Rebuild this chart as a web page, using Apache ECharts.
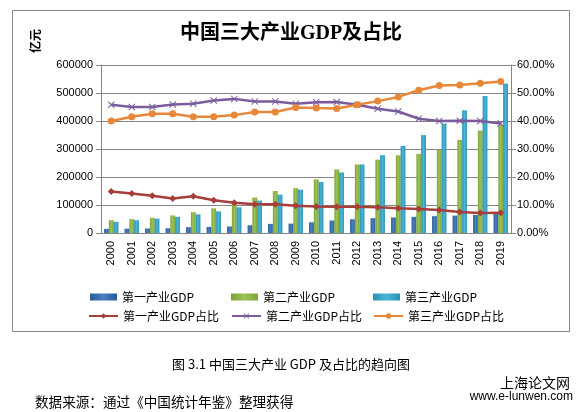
<!DOCTYPE html>
<html><head><meta charset="utf-8">
<script src="https://cdn.jsdelivr.net/npm/echarts@6/dist/echarts.min.js"></script>
<style>html,body{margin:0;padding:0;background:#fff}#c{width:582px;height:412px}</style>
</head><body><div id="c"></div>
<script>
const years = ['2000','2001','2002','2003','2004','2005','2006','2007','2008','2009','2010','2011','2012','2013','2014','2015','2016','2017','2018','2019'];
const gdp1 = [14717,15503,16190,16970,20904,21807,23317,27674,32464,33584,38430,44781,49085,53028,55626,57775,60139,62100,64745,70467];
const gdp2 = [45665,49660,54105,62697,74287,88082,104359,126630,149952,160168,191626,227035,244643,261956,277572,282040,296547,332743,366001,386165];
const gdp3 = [39898,45701,51423,57756,66650,77430,91762,115810,136805,154748,182062,216124,244822,277984,310654,349745,390828,438356,489701,534233];
const share1 = [14.8,14.1,13.3,12.3,13.1,11.7,10.8,10.3,10.3,9.7,9.5,9.4,9.4,9.2,8.8,8.6,8.2,7.5,7.1,7.2];
const share2 = [45.8,45.0,45.0,45.9,46.2,47.3,47.9,47.0,47.0,46.2,46.7,46.8,45.8,44.4,43.4,40.8,40.0,40.1,40.0,39.1];
const share3 = [40.0,41.5,42.6,42.6,41.5,41.5,42.1,43.2,43.2,44.8,44.6,44.5,45.8,47.1,48.6,51.0,52.7,52.9,53.5,54.1];
const names = ['第一产业GDP','第二产业GDP','第三产业GDP','第一产业GDP占比','第二产业GDP占比','第三产业GDP占比'];
const yLeftTicks = {min:0,max:600000,interval:100000};
const yRightTicks = {min:0,max:60,interval:10};

const grad = (a,b)=>new echarts.graphic.LinearGradient(0,0,1,0,[{offset:0,color:a},{offset:0.5,color:b},{offset:1,color:a}]);
const cBar = [grad('#2A5A96','#4A7FC4'), grad('#7DA23A','#9DC453'), grad('#2890B2','#4BB6D6')];
const cLine = ['#A83E3A','#7A5C9E','#E8883A'];
const xPath = 'path://M1,0 L5,4 L9,0 L10,1 L6,5 L10,9 L9,10 L5,6 L1,10 L0,9 L4,5 L0,1 Z';
const font = '"Noto Sans CJK SC", "Liberation Sans", sans-serif';
const gray = '#868686';

const legendPos = [[85,286],[226,286],[368,286],[83,305],[226,305],[368,305]];
const legends = names.map((n,i)=>{
  const l = {data:[n], left:legendPos[i][0], top:legendPos[i][1], itemWidth: i<3?27:29, itemHeight:7,
    textStyle:{fontSize:12,fontFamily:font,color:'#000'}, selectedMode:false};
  if (i<3) l.icon = 'rect';
  return l;
});

const chart = echarts.init(document.getElementById('c'));
chart.setOption({
  animation:false,
  title:{text:'中国三大产业GDP及占比',left:'center',top:19,textStyle:{fontSize:20,fontWeight:'bold',fontFamily:'"Liberation Serif", "Noto Sans CJK SC", serif',color:'#000'}},
  legend: legends,
  grid:{left:101,right:71,top:65,bottom:179},
  xAxis:{type:'category',data:years,
    axisLine:{lineStyle:{color:gray}},
    axisTick:{length:5,lineStyle:{color:gray}},
    axisLabel:{rotate:90,fontSize:11,color:'#000',fontFamily:'"Liberation Sans", sans-serif',margin:8}},
  yAxis:[
    {type:'value',min:yLeftTicks.min,max:yLeftTicks.max,interval:yLeftTicks.interval,
     axisLine:{show:true,lineStyle:{color:gray}},axisTick:{show:true,length:5,lineStyle:{color:gray}},
     splitLine:{lineStyle:{color:gray}},
     axisLabel:{fontSize:11,color:'#000',fontFamily:'"Liberation Sans", sans-serif',margin:8,formatter:v=>String(v)}},
    {type:'value',min:yRightTicks.min,max:yRightTicks.max,interval:yRightTicks.interval,position:'right',
     axisLine:{show:true,lineStyle:{color:gray}},axisTick:{show:true,length:5,lineStyle:{color:gray}},
     splitLine:{show:false},
     axisLabel:{fontSize:11,color:'#000',fontFamily:'"Liberation Sans", sans-serif',margin:6,formatter:v=>v.toFixed(2)+'%'}}
  ],
  series:[
    {name:names[0],type:'bar',data:gdp1,itemStyle:{color:cBar[0]},barGap:'0%',barCategoryGap:'30%'},
    {name:names[1],type:'bar',data:gdp2,itemStyle:{color:cBar[1]},barGap:'0%',barCategoryGap:'30%'},
    {name:names[2],type:'bar',data:gdp3,itemStyle:{color:cBar[2]},barGap:'0%',barCategoryGap:'30%'},
    {name:names[3],type:'line',yAxisIndex:1,data:share1,symbol:'diamond',symbolSize:7,
     lineStyle:{color:cLine[0],width:2.5},itemStyle:{color:cLine[0]},z:5},
    {name:names[4],type:'line',yAxisIndex:1,data:share2,symbol:xPath,symbolSize:7,
     lineStyle:{color:cLine[1],width:2.5},itemStyle:{color:cLine[1]},z:5},
    {name:names[5],type:'line',yAxisIndex:1,data:share3,symbol:'circle',symbolSize:7,
     lineStyle:{color:cLine[2],width:2.5},itemStyle:{color:cLine[2]},z:5}
  ],
  graphic:[
    {type:'rect',shape:{x:12.5,y:10.5,width:557,height:321},style:{fill:'none',stroke:gray,lineWidth:1},silent:true,z:-1},
    {type:'text',x:35,y:41,rotation:Math.PI/2,style:{text:'亿元',font:'bold 12px "Noto Sans CJK SC"',fill:'#000',align:'center',verticalAlign:'middle'}},
    {type:'text',x:291,y:364,style:{text:'图 3.1 中国三大产业 GDP 及占比的趋向图',font:'13px "Noto Sans CJK SC"',fill:'#000',align:'center',verticalAlign:'middle'}},
    {type:'text',x:35,y:402,style:{text:'数据来源：通过《中国统计年鉴》整理获得',font:'13.6px "Noto Sans CJK SC"',fill:'#000',align:'left',verticalAlign:'middle'}},
    {type:'text',x:570,y:383,style:{text:'上海论文网',font:'14px "Noto Sans CJK SC"',fill:'#000',align:'right',verticalAlign:'middle'}},
    {type:'text',x:573,y:397,style:{text:'www.e-lunwen.com',font:'12px "Liberation Sans"',fill:'#000',align:'right',verticalAlign:'middle'}}
  ]
});
</script></body></html>
